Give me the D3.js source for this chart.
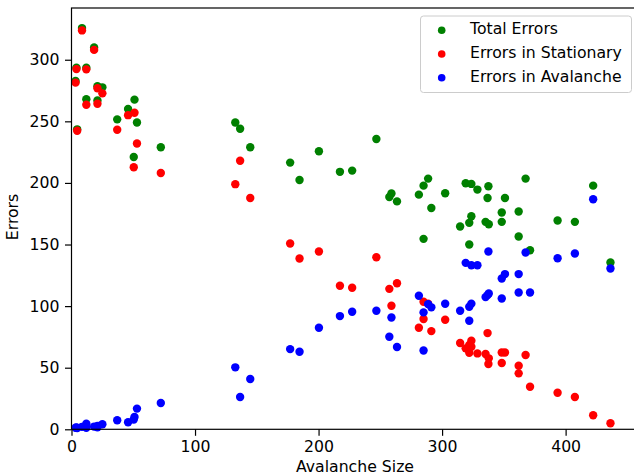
<!DOCTYPE html>
<html>
<head>
<meta charset="utf-8">
<script src="https://cdn.jsdelivr.net/npm/d3@7"></script>
<style>
  html, body { margin: 0; padding: 0; background: #fff; }
  svg { display: block; }
  text { font-family: "DejaVu Sans", sans-serif; fill: #000; }
</style>
</head>
<body>
<svg id="chart" width="634" height="476"></svg>
<script>
// ---- data ----
const avalancheSize = [3.3, 4.0, 4.6, 8.5, 12, 12, 18.3, 21, 21, 25,
  37, 45.8, 51, 50.4, 53, 72.3, 132.6, 136.5, 144.7, 177,
  184.6, 200.3, 217.3, 227.2, 246.8, 257.3, 259, 263.5, 281.2, 285,
  285, 288.7, 291.3, 302.5, 314.6, 319.1, 323.7, 328.6, 322, 323.7,
  322, 337.5, 336.8, 335.2, 337.8, 348.3, 348.3, 350.9, 362, 362,
  367.6, 371.2, 393.5, 407.5, 422.3, 436.3];
const totalErrors = [282.7, 293.5, 243.5, 325.7, 293.5, 268, 310, 278.5, 267, 277.6,
  251.6, 260, 267.6, 221, 249, 229, 249, 244, 229, 216.5,
  202.4, 225.7, 209, 210, 235.7, 188.6, 191.4, 185, 190.5, 197.8,
  154.6, 203.5, 179.7, 191.6, 164.6, 199.7, 199.2, 194.6, 167.6, 173,
  150, 197.3, 187.8, 168.4, 166.5, 176, 168.4, 187.8, 176.8, 156.5,
  203.5, 145.4, 169.5, 168.4, 197.8, 135.4];
const stationaryErrors = [281.4, 292.4, 242.4, 323.8, 292.2, 263.5, 308, 276.8, 264.3, 272.7,
  243.2, 255, 257, 212.7, 232, 208, 199, 218, 187.8, 150.8,
  138.6, 144.3, 116.5, 114.9, 139.7, 114, 100.3, 118.6, 82.4, 103.5,
  89.5, 101.9, 79.7, 88.9, 70, 65.7, 67, 61.6, 68.4, 71.9,
  62.2, 53, 78.1, 61.1, 57.6, 53.8, 62.4, 62.4, 51.6, 45.4,
  60.3, 34.6, 29.7, 26.2, 11.4, 4.9];
const avalancheErrors = [1.2, 1.5, 1.1, 2.0, 1.3, 4.6, 2.2, 1.7, 2.7, 4.1,
  7.3, 5.7, 10, 8, 16.8, 21.4, 50.3, 26.2, 40.8, 65.1,
  63, 82.4, 91.9, 95.4, 96.2, 75.1, 90.8, 66.8, 108.4, 94.9,
  64, 101.6, 99, 101.9, 96.2, 135.1, 133.2, 133.2, 99.5, 102,
  88.1, 144.3, 108.9, 107.3, 110.3, 122.4, 106.2, 126, 126, 111,
  143.5, 111, 138.9, 142.7, 186.8, 130.5];

const seriesNames = ["Total Errors", "Errors in Stationary", "Errors in Avalanche"];
const seriesColors = ["#008000", "#ff0000", "#0000ff"];
const xTicks = [0, 100, 200, 300, 400];
const yTicks = [0, 50, 100, 150, 200, 250, 300];
const xLabel = "Avalanche Size";
const yLabel = "Errors";

// ---- layout ----
const svg = d3.select("#chart");
const padL = 71.5, padR = 638.5, padT = 8, padB = 429.3;
const x = d3.scaleLinear().domain([0, 459]).range([padL, padR]);
const y = d3.scaleLinear().domain([0, 342]).range([padB, padT]);

const seriesValues = [totalErrors, stationaryErrors, avalancheErrors];

const plot = svg.append("g");
seriesValues.forEach((vals, si) => {
  plot.append("g").selectAll("circle")
    .data(avalancheSize.map((s, i) => [s, vals[i]]))
    .join("circle")
    .attr("cx", d => x(d[0]))
    .attr("cy", d => y(d[1]))
    .attr("r", 4.2)
    .attr("fill", seriesColors[si]);
});

// axes
const fs = "15.7px";
const xAxis = svg.append("g").attr("transform", `translate(0,${padB})`)
  .call(d3.axisBottom(x).tickValues(xTicks).tickSize(6.5).tickPadding(5).tickFormat(d3.format("d")));
const yAxis = svg.append("g").attr("transform", `translate(${padL},0)`)
  .call(d3.axisLeft(y).tickValues(yTicks).tickSize(6.5).tickPadding(5.5).tickFormat(d3.format("d")));
[xAxis, yAxis].forEach(a => {
  a.select(".domain").remove();
  a.selectAll(".tick line").attr("stroke", "#000").attr("stroke-width", 1.2);
  a.selectAll(".tick text").style("font-size", fs).style("font-family", "DejaVu Sans").attr("fill", "#000");
});

// spines
svg.append("rect")
  .attr("x", padL).attr("y", padT)
  .attr("width", padR - padL).attr("height", padB - padT)
  .attr("fill", "none").attr("stroke", "#000").attr("stroke-width", 1.2);

// axis labels
svg.append("text").attr("x", (padL + padR) / 2).attr("y", 471.5)
  .attr("text-anchor", "middle").style("font-size", fs).text(xLabel);
svg.append("text")
  .attr("transform", `translate(18,${217}) rotate(-90)`)
  .attr("text-anchor", "middle").style("font-size", fs).text(yLabel);

// legend
const lg = svg.append("g");
lg.append("rect").attr("x", 420.5).attr("y", 16).attr("width", 211).attr("height", 76.5)
  .attr("rx", 3).attr("fill", "#fff").attr("fill-opacity", 0.8)
  .attr("stroke", "#cccccc").attr("stroke-width", 1);
seriesNames.forEach((name, i) => {
  const base = 34 + i * 23.8;
  lg.append("circle").attr("cx", 441.7).attr("cy", base - 3.8).attr("r", 3.8).attr("fill", seriesColors[i]);
  lg.append("text").attr("x", 470).attr("y", base).style("font-size", fs).text(name);
});
</script>
</body>
</html>
